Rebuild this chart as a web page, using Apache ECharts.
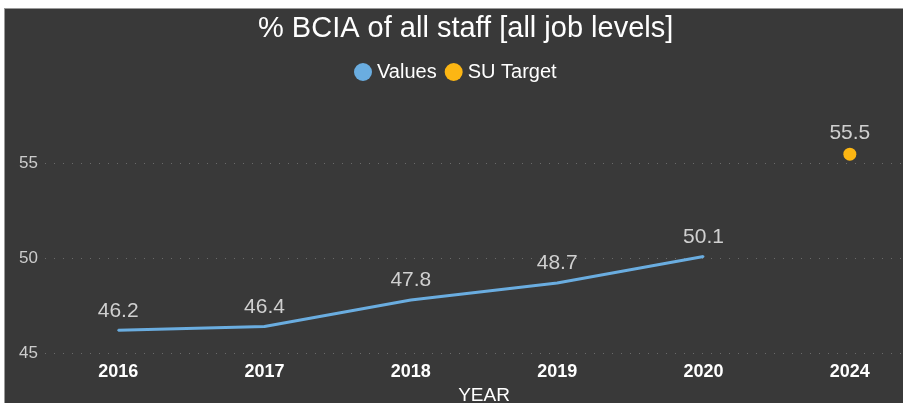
<!DOCTYPE html>
<html>
<head>
<meta charset="utf-8">
<script src="https://cdn.jsdelivr.net/npm/echarts@6/dist/echarts.min.js"></script>
<style>
    body { margin: 0; background: #fff; }
    #chart { position: absolute; left: 4px; top: 8px; width: 899px; height: 395px;
             background: #393939; border-left: 1px solid #9a9a9a; border-top: 1px solid #9a9a9a; box-sizing: border-box; }
</style>
</head>
<body>
<div id="chart"></div>
<script>
// chart data
var years = ['2016', '2017', '2018', '2019', '2020', '2024'];
var values = [46.2, 46.4, 47.8, 48.7, 50.1, null];
var target = [null, null, null, null, null, 55.5];

var option = {
    backgroundColor: '#393939',
    animation: false,
    textStyle: { fontFamily: 'Liberation Sans, Arial, sans-serif' },
    title: {
        text: '% BCIA of all staff [all job levels]',
        left: 248,
        top: 0,
        textStyle: { color: '#ffffff', fontSize: 29, fontWeight: 'normal' }
    },
    legend: {
        top: 48,
        left: 344,
        icon: 'circle',
        itemWidth: 18,
        itemHeight: 18,
        itemGap: 8,
        textStyle: { color: '#ffffff', fontSize: 20 },
        data: ['Values', 'SU Target']
    },
    grid: {
        left: 40,
        top: 60,
        width: 878,
        bottom: 50,
        outerBoundsMode: 'none'
    },
    xAxis: {
        type: 'category',
        data: years,
        name: 'YEAR',
        nameLocation: 'middle',
        nameGap: 32,
        nameTextStyle: { color: '#ffffff', fontSize: 19 },
        axisLine: { show: false },
        axisTick: { show: false },
        axisLabel: { color: '#ffffff', fontSize: 18, fontWeight: 'bold', margin: 10 }
    },
    yAxis: {
        type: 'value',
        min: 45,
        max: 60,
        interval: 5,
        axisLine: { show: false },
        axisTick: { show: false },
        axisLabel: { color: '#cccccc', fontSize: 17, margin: 7, showMaxLabel: false },
        splitLine: {
            showMaxLine: false,
            lineStyle: { color: '#6a6a6a', type: [1, 8], width: 1 }
        }
    },
    series: [
        {
            name: 'Values',
            type: 'line',
            data: values,
            color: '#6aade0',
            symbol: 'circle',
            symbolSize: 2,
            showSymbol: true,
            lineStyle: { width: 3 },
            label: {
                show: true,
                position: 'top',
                distance: 8,
                color: '#d0d0d0',
                fontSize: 21
            }
        },
        {
            name: 'SU Target',
            type: 'line',
            data: target,
            color: '#fcb613',
            symbol: 'circle',
            symbolSize: 13,
            showSymbol: true,
            lineStyle: { width: 0 },
            label: {
                show: true,
                position: 'top',
                distance: 4,
                color: '#d0d0d0',
                fontSize: 21
            }
        }
    ]
};

var chart = echarts.init(document.getElementById('chart'));
chart.setOption(option);

window.addEventListener('resize', function () {
    chart.resize();
});
</script>
</body>
</html>
